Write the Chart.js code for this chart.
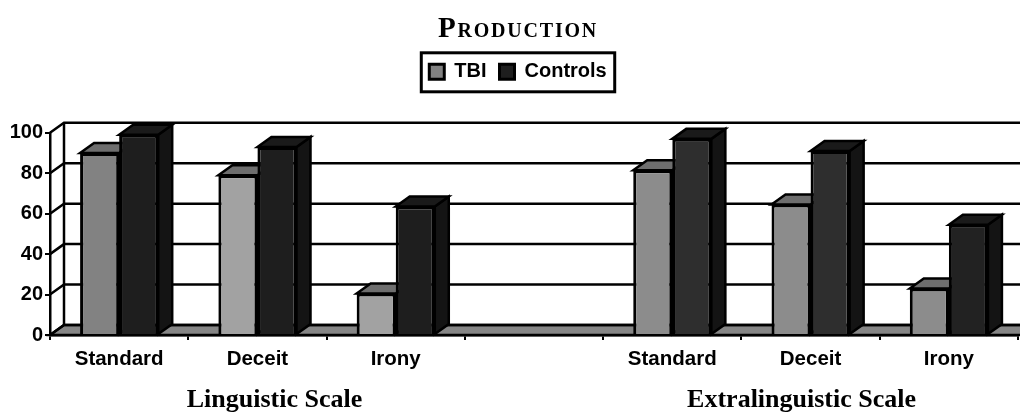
<!DOCTYPE html>
<html>
<head>
<meta charset="utf-8">
<style>
html, body { margin: 0; padding: 0; background: #fff; }
canvas { display: block; }
</style>
<script src="https://cdn.jsdelivr.net/npm/chart.js@4"></script>
</head>
<body>
<canvas id="chart" width="1020" height="412"></canvas>
<script>
const categories = ["Standard", "Deceit", "Irony", "", "Standard", "Deceit", "Irony"];
const tbiValues = [90, 79, 20.5, null, 81.5, 64.5, 23];
const controlValues = [99, 93, 63.5, null, 97, 91, 54.5];
const yTicks = [0, 20, 40, 60, 80, 100];
const scaleNames = ["Linguistic Scale", "Extralinguistic Scale"];

const tbiColors = ["#828282", "#a2a2a2", "#a2a2a2", "#888888", "#8c8c8c", "#8c8c8c", "#8c8c8c"];
const controlColors = ["#1e1e1e", "#1e1e1e", "#1e1e1e", "#1e1e1e", "#2e2e2e", "#2e2e2e", "#222222"];

const depthX = 14;
const depthY = 10;
const lineWidth = 2.5;
const sansFont = "'Liberation Sans', Arial, sans-serif";
const serifFont = "'Liberation Serif', 'Times New Roman', serif";

function face(ctx, points, fill) {
    ctx.beginPath();
    points.forEach((p, i) => i ? ctx.lineTo(p[0], p[1]) : ctx.moveTo(p[0], p[1]));
    ctx.closePath();
    ctx.fillStyle = fill;
    ctx.fill();
    ctx.stroke();
}

// back wall, floor and the top and side faces of the bars, fronts are drawn by the library afterwards
const depthPlugin = {
    id: "depth",
    beforeDatasetsDraw(chart) {
        const ctx = chart.ctx;
        const y = chart.scales.y;
        const left = chart.chartArea.left;
        const right = chart.width + depthX;
        ctx.save();
        ctx.strokeStyle = "#000";
        ctx.lineWidth = lineWidth;
        face(ctx, [[left, y.getPixelForValue(0)], [left + depthX, y.getPixelForValue(0) - depthY],
            [right, y.getPixelForValue(0) - depthY], [right, y.getPixelForValue(0)]], "#868686");
        yTicks.forEach(tick => {
            const py = y.getPixelForValue(tick);
            ctx.beginPath();
            ctx.moveTo(left, py);
            ctx.lineTo(left + depthX, py - depthY);
            ctx.lineTo(right, py - depthY);
            ctx.stroke();
        });
        ctx.beginPath();
        ctx.moveTo(left + depthX, y.getPixelForValue(0) - depthY);
        ctx.lineTo(left + depthX, y.getPixelForValue(100) - depthY);
        ctx.stroke();

        [0, 1].forEach(index => {
            const isTbi = index === 0;
            chart.getDatasetMeta(index).data.forEach((bar, i) => {
                if (chart.data.datasets[index].data[i] === null) {
                    return;
                }
                const l = bar.x - bar.width / 2;
                const r = bar.x + bar.width / 2;
                face(ctx, [[r, bar.y], [r + depthX, bar.y - depthY], [r + depthX, bar.base - depthY], [r, bar.base]],
                    isTbi ? "#5a5a5a" : "#141414");
                face(ctx, [[l, bar.y], [l + depthX, bar.y - depthY], [r + depthX, bar.y - depthY], [r, bar.y]],
                    isTbi ? "#6e6e6e" : "#1a1a1a");
            });
        });
        ctx.restore();
    }
};

// frame round the legend and the two scale captions under the axis
const framePlugin = {
    id: "frame",
    beforeInit(chart) {
        const fit = chart.legend.fit;
        chart.legend.fit = function () {
            fit.call(this);
            this.height += 41;
        };
        const drawTitle = chart.titleBlock.draw;
        chart.titleBlock.draw = function () {
            chart.ctx.letterSpacing = "1.8px";
            drawTitle.call(this);
            chart.ctx.letterSpacing = "0px";
        };
    },
    afterLayout(chart) {
        // the y tick labels get clipped to the scale box otherwise
        chart.scales.y.left = 0;
    },
    afterDraw(chart) {
        const ctx = chart.ctx;
        const boxes = chart.legend.legendHitBoxes;
        const last = boxes[boxes.length - 1];
        ctx.save();
        ctx.strokeStyle = "#000";
        ctx.lineWidth = 3;
        ctx.strokeRect(boxes[0].left - 8, boxes[0].top - 9, last.left + last.width - boxes[0].left + 16, 39);

        const x = chart.scales.x;
        ctx.fillStyle = "#000";
        ctx.font = "bold 26px " + serifFont;
        ctx.textAlign = "center";
        ctx.textBaseline = "alphabetic";
        ctx.fillText(scaleNames[0], x.getPixelForTick(1) + 17, 407);
        ctx.fillText(scaleNames[1], x.getPixelForTick(5) - 9, 407);
        ctx.restore();
    }
};

new Chart(document.getElementById("chart").getContext("2d"), {
    type: "bar",
    data: {
        labels: categories,
        datasets: [
            {
                label: "TBI",
                data: tbiValues,
                backgroundColor: tbiColors,
                borderColor: "#000",
                borderWidth: 3
            },
            {
                label: "Controls",
                data: controlValues,
                backgroundColor: controlColors,
                borderColor: "#000",
                borderWidth: 3
            }
        ]
    },
    plugins: [depthPlugin, framePlugin],
    options: {
        responsive: false,
        animation: false,
        layout: { padding: { left: 18, right: 2, top: 0, bottom: 0 } },
        datasets: { bar: { categoryPercentage: 0.565, barPercentage: 1, clip: false } },
        plugins: {
            tooltip: { enabled: false },
            title: {
                display: true,
                text: "Production",
                color: "#000",
                font: { family: serifFont, size: 29, weight: "small-caps bold" },
                padding: { top: 12, bottom: 2 }
            },
            legend: {
                display: true,
                position: "top",
                labels: {
                    color: "#000",
                    font: { family: sansFont, size: 20, weight: "bold" },
                    boxWidth: 15,
                    boxHeight: 15,
                    padding: 13,
                    generateLabels() {
                        return [
                            { text: "TBI", fillStyle: tbiColors[0], strokeStyle: "#000", lineWidth: 3, datasetIndex: 0 },
                            { text: "Controls", fillStyle: controlColors[0], strokeStyle: "#000", lineWidth: 3, datasetIndex: 1 }
                        ];
                    }
                }
            }
        },
        scales: {
            x: {
                afterFit(scale) { scale.height = 77; },
                border: { color: "#000", width: lineWidth },
                grid: { drawOnChartArea: false, color: "#000", lineWidth: 2, tickLength: 5, offset: true },
                ticks: {
                    color: "#000",
                    autoSkip: false,
                    maxRotation: 0,
                    padding: 7,
                    font: { family: sansFont, size: 20.5, weight: "bold" }
                }
            },
            y: {
                min: 0,
                max: 100,
                afterFit(scale) { scale.width = 32; },
                afterBuildTicks(scale) { scale.ticks = yTicks.map(value => ({ value })); },
                border: { color: "#000", width: lineWidth },
                grid: { drawOnChartArea: false, color: "#000", lineWidth: 2, tickLength: 5 },
                ticks: {
                    color: "#000",
                    padding: 2,
                    font: { family: sansFont, size: 20, weight: "bold" }
                }
            }
        }
    }
});
</script>
</body>
</html>
